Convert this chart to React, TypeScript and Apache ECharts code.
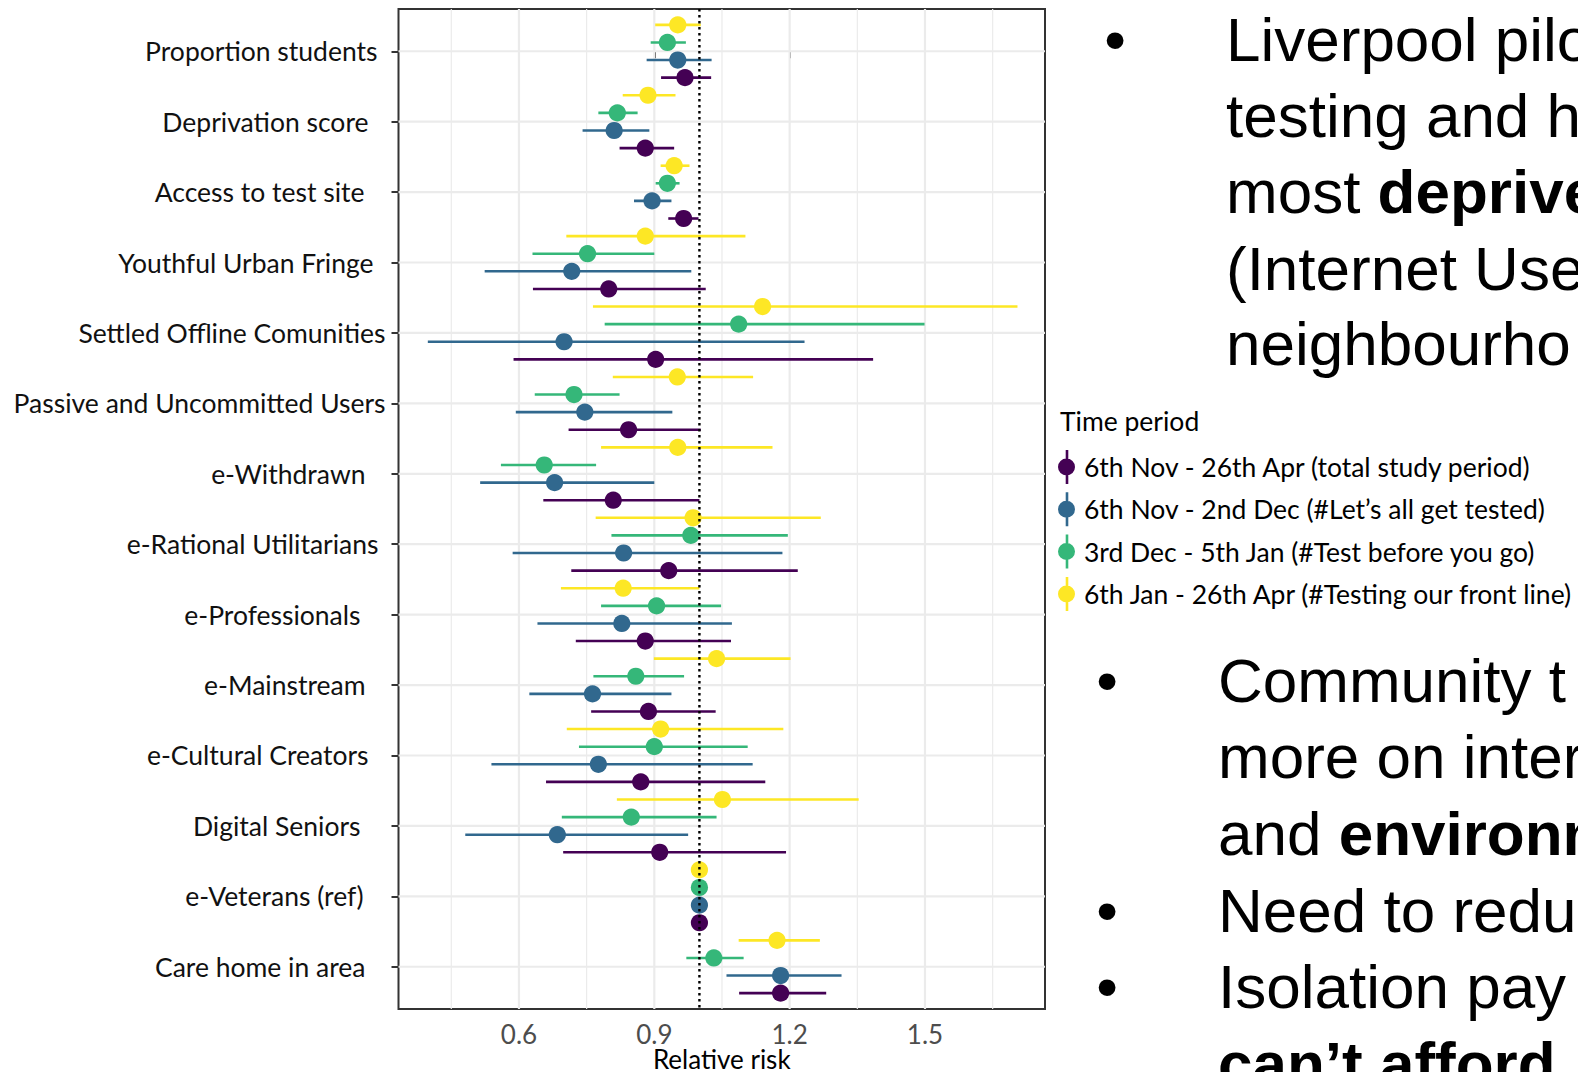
import React, { useEffect, useRef } from "react";
import * as echarts from "echarts";

const categories = [
  "Proportion students",
  "Deprivation score",
  "Access to test site",
  "Youthful Urban Fringe",
  "Settled Offline Comunities",
  "Passive and Uncommitted Users",
  "e-Withdrawn",
  "e-Rational Utilitarians",
  "e-Professionals",
  "e-Mainstream",
  "e-Cultural Creators",
  "Digital Seniors",
  "e-Veterans (ref)",
  "Care home in area",
];

const periods = [
  "6th Nov - 26th Apr (total study period)",
  "6th Nov - 2nd Dec (#Let\u2019s all get tested)",
  "3rd Dec - 5th Jan (#Test before you go)",
  "6th Jan - 26th Apr (#Testing our front line)",
];

// Relative risk estimates and 95% CI per period
const totalEst = [0.968, 0.88, 0.965, 0.799, 0.903, 0.843, 0.809, 0.932, 0.88, 0.887, 0.87, 0.912, 1.0, 1.18];
const totalLo = [0.915, 0.823, 0.931, 0.631, 0.588, 0.71, 0.654, 0.716, 0.726, 0.76, 0.66, 0.698, 1.0, 1.088];
const totalHi = [1.026, 0.944, 0.998, 1.014, 1.385, 1.003, 1.0, 1.218, 1.07, 1.036, 1.146, 1.192, 1.0, 1.281];

const letsEst = [0.952, 0.811, 0.895, 0.717, 0.7, 0.746, 0.679, 0.832, 0.828, 0.763, 0.776, 0.685, 1.0, 1.18];
const letsLo = [0.883, 0.741, 0.855, 0.524, 0.398, 0.593, 0.514, 0.586, 0.641, 0.623, 0.539, 0.481, 1.0, 1.06];
const letsHi = [1.027, 0.889, 0.938, 0.982, 1.233, 0.94, 0.9, 1.184, 1.072, 0.938, 1.118, 0.975, 1.0, 1.315];

const beforeEst = [0.929, 0.818, 0.929, 0.752, 1.087, 0.722, 0.656, 0.981, 0.905, 0.859, 0.9, 0.849, 1.0, 1.032];
const beforeLo = [0.892, 0.776, 0.903, 0.63, 0.79, 0.635, 0.56, 0.805, 0.782, 0.765, 0.733, 0.695, 1.0, 0.971];
const beforeHi = [0.97, 0.863, 0.956, 0.9, 1.499, 0.823, 0.771, 1.196, 1.048, 0.966, 1.107, 1.038, 1.0, 1.098];

const frontEst = [0.952, 0.886, 0.944, 0.88, 1.14, 0.951, 0.952, 0.986, 0.831, 1.038, 0.914, 1.051, 1.0, 1.172];
const frontLo = [0.902, 0.83, 0.914, 0.705, 0.764, 0.808, 0.782, 0.77, 0.693, 0.899, 0.706, 0.817, 1.0, 1.087];
const frontHi = [1.003, 0.947, 0.978, 1.102, 1.705, 1.119, 1.162, 1.269, 1.0, 1.202, 1.186, 1.353, 1.0, 1.267];

const xTicks = [0.6, 0.9, 1.2, 1.5];
const xMinorGrid = [0.45, 0.75, 1.05, 1.35, 1.65];
const refValue = 1;

const colors = ["#440154", "#31688E", "#35B779", "#FDE725"];
const dodge = [0.375, 0.125, -0.125, -0.375];
const labelIndent = [8, 17, 21, 12, 0, 0, 20, 7, 25, 20, 17, 25, 22, 20];

const LABEL_FONT = "Lato, 'Open Sans', sans-serif";
const SLIDE_FONT = "'Liberation Sans', Arial, sans-serif";

export default function App() {
  const ref = useRef<HTMLDivElement>(null);

  useEffect(() => {
    if (!ref.current) return;
    const chart = echarts.init(ref.current, undefined, { renderer: "svg" });

    const groups = [
      [totalEst, totalLo, totalHi],
      [letsEst, letsLo, letsHi],
      [beforeEst, beforeLo, beforeHi],
      [frontEst, frontLo, frontHi],
    ];

    const periodSeries = groups.map((g, si) => ({
      type: "custom",
      name: periods[si],
      z: 2,
      itemStyle: { color: colors[si] },
      encode: { x: [0, 1, 2], y: 3 },
      data: categories.map((_, i) => [g[1][i], g[2][i], g[0][i], i]),
      renderItem: (params: any, api: any) => {
        const lo = api.value(0);
        const hi = api.value(1);
        const est = api.value(2);
        const y = api.value(3) + dodge[si];
        const p0 = api.coord([lo, y]);
        const p1 = api.coord([hi, y]);
        const pc = api.coord([est, y]);
        return {
          type: "group",
          children: [
            {
              type: "line",
              shape: { x1: p0[0], y1: p0[1], x2: p1[0], y2: p1[1] },
              style: { stroke: colors[si], lineWidth: 2.6 },
            },
            {
              type: "circle",
              shape: { cx: pc[0], cy: pc[1], r: 8.6 },
              style: { fill: colors[si] },
            },
          ],
        };
      },
    }));

    const gridData = [
      ...xTicks.map((v) => [v, 0, 0]),
      ...xMinorGrid.map((v) => [v, 0, 1]),
      ...categories.map((_, i) => [refValue, i, 2]),
    ];

    const option: any = {
      animation: false,
      backgroundColor: "#ffffff",
      grid: {
        left: 398.5,
        top: 9,
        width: 646.5,
        height: 1000,
        show: true,
        backgroundColor: "#ffffff",
        borderColor: "#333333",
        borderWidth: 2,
        containLabel: false,
        outerBoundsMode: "none",
      },
      xAxis: {
        type: "value",
        min: 0.333,
        max: 1.766,
        axisLine: { show: false },
        splitLine: { show: false },
        axisTick: {
          show: true,
          length: 7,
          lineStyle: { color: "#333333", width: 2 },
          customValues: xTicks,
        },
        axisLabel: {
          customValues: xTicks,
          color: "#4D4D4D",
          fontSize: 26,
          lineHeight: 22,
          fontFamily: LABEL_FONT,
          margin: 14,
          formatter: (v: number) => v.toFixed(1),
        },
        name: "Relative risk",
        nameLocation: "middle",
        nameGap: 39,
        nameMoveOverlap: false,
        nameTextStyle: { color: "#000000", fontSize: 26, lineHeight: 22, fontFamily: LABEL_FONT },
      },
      yAxis: {
        type: "value",
        min: -0.6,
        max: 13.6,
        inverse: true,
        axisLine: { show: false },
        splitLine: { show: false },
        axisTick: {
          show: true,
          length: 7,
          lineStyle: { color: "#333333", width: 2 },
          customValues: categories.map((_, i) => i),
        },
        axisLabel: {
          customValues: categories.map((_, i) => i),
          margin: 13,
          formatter: (v: number) => `{r${v}|${categories[v]}}`,
          rich: Object.fromEntries(
            labelIndent.map((p, i) => [
              `r${i}`,
              {
                padding: [0, p, 0, 0],
                fontSize: 26.5,
                fontFamily: LABEL_FONT,
                color: "#111111",
              },
            ])
          ),
        },
      },
      legend: {
        orient: "vertical",
        left: 1058,
        top: 450,
        padding: 0,
        itemWidth: 17,
        itemHeight: 34,
        itemGap: 8.3,
        icon: "path://M7.7,0h2.6v34h-2.6z M0,17A8.5,8.5 0 1 1 17,17A8.5,8.5 0 1 1 0,17Z",
        textStyle: {
          fontSize: 26.5,
          fontFamily: LABEL_FONT,
          color: "#000000",
          padding: [0, 0, 0, 4],
        },
        data: periods,
        selectedMode: false,
      },
      graphic: [
        {
          type: "text",
          x: 1060,
          y: 421,
          style: {
            text: "Time period",
            fontSize: 26.5,
            fontFamily: LABEL_FONT,
            fill: "#000000",
            align: "left",
            verticalAlign: "middle",
          },
        },
        ...[
          { x: 1115, y: 39, t: "\u2022" },
          { x: 1107, y: 680, t: "\u2022" },
          { x: 1107, y: 910, t: "\u2022" },
          { x: 1107, y: 986, t: "\u2022" },
        ].map((b) => ({
          type: "text",
          x: b.x,
          y: b.y,
          style: {
            text: b.t,
            fontSize: 62,
            fontFamily: SLIDE_FONT,
            fill: "#000000",
            align: "center",
            verticalAlign: "middle",
          },
        })),
        ...[
          { x: 1226, y: 39, t: "{n|Liverpool pilo}" },
          { x: 1226, y: 115, t: "{n|testing and h}" },
          { x: 1226, y: 191, t: "{n|most }{b|deprive}" },
          { x: 1226, y: 268, t: "{n|(Internet Use}" },
          { x: 1226, y: 343, t: "{n|neighbourho}" },
          { x: 1218, y: 680, t: "{n|Community t}" },
          { x: 1218, y: 756, t: "{n|more on inter}" },
          { x: 1218, y: 833, t: "{n|and }{b|environm}" },
          { x: 1218, y: 910, t: "{n|Need to reduc}" },
          { x: 1218, y: 986, t: "{n|Isolation pay}" },
          { x: 1218, y: 1063, t: "{b|can\u2019t afford}" },
        ].map((l) => ({
          type: "text",
          x: l.x,
          y: l.y,
          style: {
            text: l.t,
            fontSize: 62,
            fontFamily: SLIDE_FONT,
            fill: "#000000",
            align: "left",
            verticalAlign: "middle",
            rich: {
              n: { fontSize: 62, fontFamily: SLIDE_FONT, fontWeight: "normal", fill: "#000000", color: "#000000" },
              b: { fontSize: 62, fontFamily: SLIDE_FONT, fontWeight: "bold", fill: "#000000", color: "#000000" },
            },
          },
        })),
      ],
      series: [
        {
          type: "custom",
          name: "grid",
          z: 1,
          silent: true,
          encode: { x: 0, y: 1 },
          data: gridData,
          renderItem: (params: any, api: any) => {
            const cs = params.coordSys;
            const kind = api.value(2);
            if (kind === 2) {
              const y = api.coord([api.value(0), api.value(1)])[1];
              return {
                type: "line",
                shape: { x1: cs.x, y1: y, x2: cs.x + cs.width, y2: y },
                style: { stroke: "#EBEBEB", lineWidth: 2.2 },
              };
            }
            const x = api.coord([api.value(0), 0])[0];
            return {
              type: "line",
              shape: { x1: x, y1: cs.y, x2: x, y2: cs.y + cs.height },
              style: { stroke: "#EBEBEB", lineWidth: kind === 0 ? 2.2 : 1.2 },
            };
          },
        },
        ...periodSeries,
        {
          type: "custom",
          name: "reference",
          z: 3,
          silent: true,
          encode: { x: 0, y: 1 },
          data: [[refValue, 0]],
          renderItem: (params: any, api: any) => {
            const cs = params.coordSys;
            const x = api.coord([api.value(0), 0])[0];
            return {
              type: "line",
              shape: { x1: x, y1: cs.y, x2: x, y2: cs.y + cs.height },
              style: { stroke: "#000000", lineWidth: 2.4, lineDash: [2.4, 3.6] },
            };
          },
        },
      ],
    };

    chart.setOption(option);
    return () => chart.dispose();
  }, []);

  return (
    <div
      ref={ref}
      style={{ position: "fixed", left: 0, top: 0, width: 1578, height: 1072, background: "#fff" }}
    />
  );
}
